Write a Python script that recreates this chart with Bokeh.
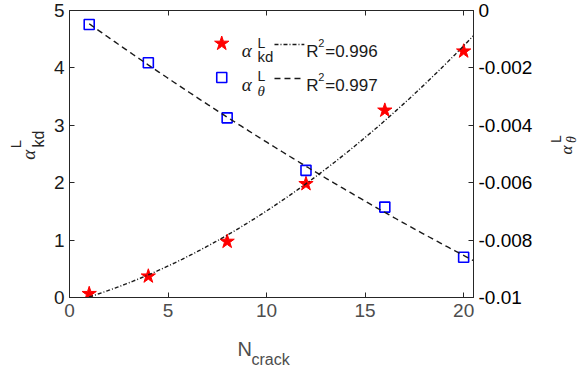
import numpy as np
from bokeh.plotting import figure
from bokeh.layouts import row, column
from bokeh.models import Label, LinearAxis, Range1d, FixedTicker
from bokeh.embed import file_html
from bokeh.resources import INLINE

# ---- data ----
n_crack = [1, 4, 8, 12, 16, 20]
alpha_kd = [0.065, 0.37, 0.975, 1.98, 3.26, 4.29]
alpha_theta = [-0.00049, -0.00182, -0.00374, -0.00557, -0.00685, -0.0086]
r2_kd = "0.996"
r2_theta = "0.997"
x_ticks = [0, 5, 10, 15, 20]
left_ticks = [0, 1, 2, 3, 4, 5]
right_ticks = [-0.01, -0.008, -0.006, -0.004, -0.002, 0]
right_tick_labels = ["-0.01", "-0.008", "-0.006", "-0.004", "-0.002", "0"]

# quadratic fits (as in the original chart)
x_fit = np.linspace(1, 20.5, 150)
kd_fit = np.polyval(np.polyfit(n_crack, alpha_kd, 2), x_fit)
th_fit = np.polyval(np.polyfit(n_crack, alpha_theta, 2), x_fit)

# ---- layout geometry (page pixels) ----
TOTAL_W, TOTAL_H = 580, 370
LW = 50            # left title strip
RW = 35            # right title strip
MW = TOTAL_W - LW - RW
MH = 329
BH = TOTAL_H - MH
F_LEFT, F_RIGHT, F_TOP, F_BOT = 67, 473, 10, 297
XMAX, YMAX = 20.5, 5.0

AX = "#262626"
SANS = "Liberation Sans"
SERIF = "Liberation Serif"

p = figure(width=MW, height=MH, x_range=Range1d(0, XMAX), y_range=Range1d(0, YMAX),
           output_backend="svg", toolbar_location=None,
           min_border_left=F_LEFT - LW, min_border_right=LW + MW - F_RIGHT,
           min_border_top=F_TOP, min_border_bottom=MH - F_BOT)
p.xgrid.visible = False
p.ygrid.visible = False
p.outline_line_color = AX


def style_axis(ax, color, standoff):
    ax.axis_line_color = AX
    ax.major_tick_line_color = AX
    ax.major_tick_in = 5
    ax.major_tick_out = 0
    ax.minor_tick_line_color = None
    ax.major_label_text_font = SANS
    ax.major_label_text_font_size = "19px"
    ax.major_label_text_color = color
    ax.major_label_standoff = standoff


p.xaxis.ticker = FixedTicker(ticks=x_ticks)
p.yaxis.ticker = FixedTicker(ticks=left_ticks)
style_axis(p.xaxis[0], "#4d4d4d", 6)
style_axis(p.yaxis[0], "#1a1a1a", 5)

p.extra_y_ranges = {"theta": Range1d(-0.01, 0)}
ax_r = LinearAxis(y_range_name="theta", ticker=FixedTicker(ticks=right_ticks),
                  major_label_overrides={t: s for t, s in zip(right_ticks, right_tick_labels)})
style_axis(ax_r, "#000000", 5)
p.add_layout(ax_r, "right")

ax_t = LinearAxis(ticker=FixedTicker(ticks=x_ticks[1:]),
                  major_label_overrides={t: "" for t in x_ticks[1:]})
style_axis(ax_t, "#000000", 0)
ax_t.major_label_text_font_size = "0px"
p.add_layout(ax_t, "above")

# ---- data marks ----
p.scatter(n_crack, alpha_kd, marker="star", size=15, fill_color="#ff0000", line_color="#ff0000")
p.line(x_fit, kd_fit, line_color="#1a1a1a", line_width=1.4, line_dash="4 2 1 2")
p.scatter(n_crack, alpha_theta, y_range_name="theta", marker="square", size=10,
          fill_color=None, line_color="#0000ff", line_width=1.6)
p.line(x_fit, th_fit, y_range_name="theta", line_color="#1a1a1a", line_width=1.4, line_dash="6 4")


# page pixel -> main-plot data coords (layout only)
def ix(px):
    return (px - F_LEFT) * XMAX / (F_RIGHT - F_LEFT)


def iy(py):
    return (F_BOT - py) * YMAX / (F_BOT - F_TOP)


def txt(fig, x, y, s, size, font=SANS, style="normal", color="#1a1a1a", angle=0.0):
    fig.add_layout(Label(x=x, y=y, text=s, text_font=font, text_font_size=f"{size}px",
                         text_font_style=style, text_color=color, text_align="left",
                         text_baseline="alphabetic", angle=angle))


def mt(px, py, s, size, font=SANS, style="normal"):
    txt(p, ix(px), iy(py), s, size, font, style)


# ---- legend (manual) ----
p.scatter([ix(220)], [iy(43)], marker="star", size=15, fill_color="#ff0000", line_color="#ff0000")
p.scatter([ix(220)], [iy(77)], marker="square", size=10, fill_color=None,
          line_color="#0000ff", line_width=1.6)
p.line([ix(273), ix(303)], [iy(44), iy(44)], line_color="#1a1a1a", line_width=1.4, line_dash="4 2 1 2")
p.line([ix(273), ix(303)], [iy(78), iy(78)], line_color="#1a1a1a", line_width=1.4, line_dash="6 4")

mt(240, 50, "α", 19, SERIF, "italic")
mt(256, 42, "L", 14)
mt(256, 56, "kd", 15)
mt(305, 51, "R", 17)
mt(317, 42, "2", 11)
mt(324, 51, "=" + r2_kd, 17)

mt(240, 84, "α", 19, SERIF, "italic")
mt(256, 75, "L", 14)
mt(256, 90, "θ", 15, SERIF, "italic")
mt(305, 85, "R", 17)
mt(317, 76, "2", 11)
mt(324, 85, "=" + r2_theta, 17)


def strip(w, h, x0, y0):
    f = figure(width=w, height=h, x_range=Range1d(x0, x0 + w), y_range=Range1d(y0 + h, y0),
               output_backend="svg", toolbar_location=None, x_axis_type=None, y_axis_type=None,
               min_border=0)
    f.outline_line_color = None
    f.grid.visible = False
    return f


A90 = np.pi / 2
TC = "#262626"

# left title strip: alpha^L_kd
yl = strip(LW, MH, 0, 0)
txt(yl, 28, 171, "α", 19, SERIF, "italic", TC, A90)
txt(yl, 15, 158, "L", 15, SANS, "normal", TC, A90)
txt(yl, 38, 157, "kd", 16, SANS, "normal", TC, A90)

# right title strip: alpha^L_theta
yr = strip(RW, MH, LW + MW, 0)
txt(yr, 566, 165, "α", 17, SERIF, "italic", TC, A90)
txt(yr, 555, 152, "L", 14, SANS, "normal", TC, A90)
txt(yr, 571, 152, "θ", 14, SERIF, "italic", TC, A90)

# bottom title strip: N_crack
xl = strip(TOTAL_W, BH, 0, MH)
txt(xl, 237, 348, "N", 20, SANS, "normal", "#4d4d4d")
txt(xl, 251, 359, "crack", 16, SANS, "normal", "#4d4d4d")

layout = column(row(yl, p, yr), xl)
open("out.html", "w").write(file_html(layout, INLINE))
